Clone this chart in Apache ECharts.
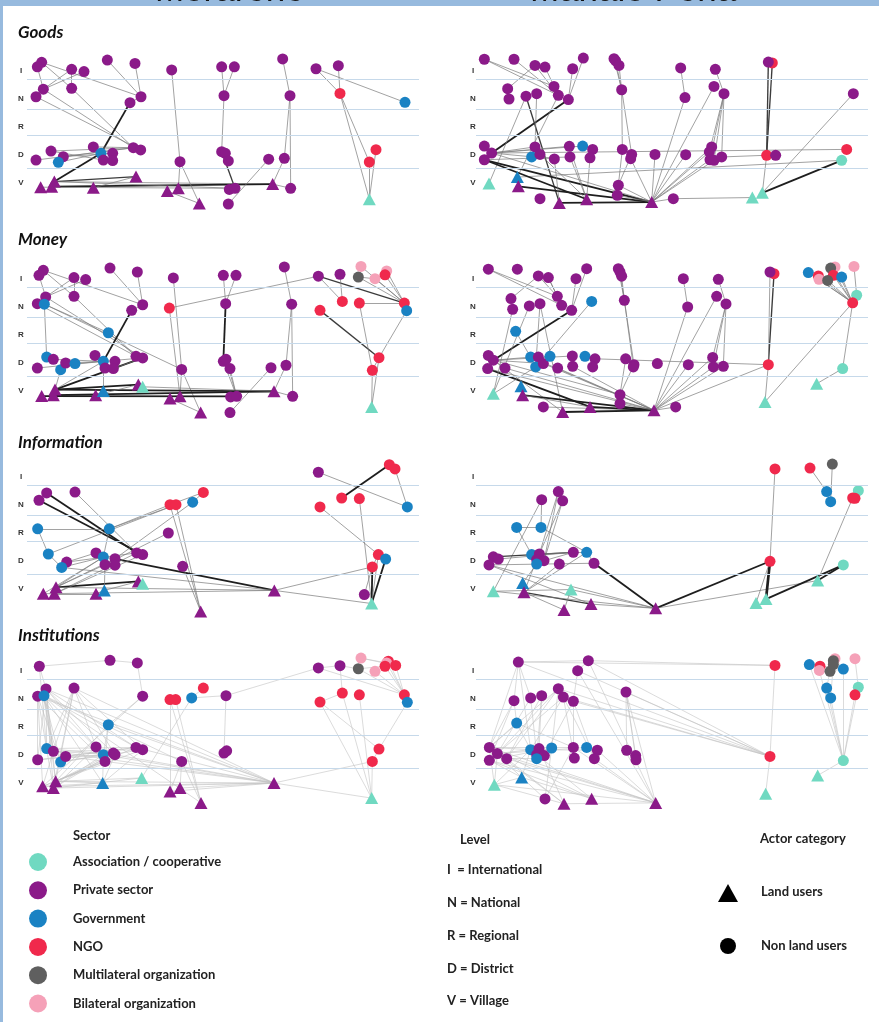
<!DOCTYPE html>
<html>
<head>
<meta charset="utf-8">
<title>Actor networks by flow type</title>
<script src="https://cdn.jsdelivr.net/npm/echarts@6/dist/echarts.min.js"></script>
<style>
  html, body { margin: 0; padding: 0; background: #fff; }
  #chart { width: 879px; height: 1022px; }
</style>
</head>
<body>
<div id="chart"></div>
<script>
// node = [layout x, level (1=V .. 5=I), sector code + actor code]
// sector: A assoc, P private, G government, N NGO, M multilateral, B bilateral
// actor: L land user (triangle), O non land user (circle)
const siteNames = ["Morarene", "Mahalo Pena"];
const flowNames = ["Goods", "Money", "Information", "Institutions"];
const levelLabels = ["", "V", "D", "R", "N", "I", ""];
const levelBounds = [1.54, 2.72, 3.65, 4.71];

const goodsLeftNodes = [
  [44,5.31,"PO"],[31,5.15,"PO"],[241,5.39,"PO"],[324,5.27,"PO"],[134,5.06,"PO"],[171,4.98,"PO"],
  [434,5.04,"PO"],[584,5.15,"PO"],[622,5.15,"PO"],[767,5.43,"PO"],[867,5.08,"PO"],[934,5.19,"PO"],
  [49,4.35,"PO"],[27,4.08,"PO"],[134,4.38,"PO"],[342,4.08,"PO"],[309,3.87,"PO"],[591,4.12,"PO"],
  [789,4.12,"PO"],[939,4.20,"NO"],[1134,3.88,"GO"],[72,2.14,"PO"],[27,1.82,"PO"],[109,1.94,"PO"],
  [94,1.74,"GO"],[199,2.29,"PO"],[222,2.06,"GO"],[229,1.82,"PO"],[257,2.06,"PO"],[257,1.80,"PO"],
  [319,2.26,"PO"],[341,2.18,"PO"],[584,2.12,"PO"],[595,2.06,"PO"],[604,1.79,"PO"],[459,1.76,"PO"],
  [725,1.85,"PO"],[772,1.88,"PO"],[1047,2.19,"NO"],[1027,1.75,"NO"],[41,0.85,"PL"],[74,0.87,"PL"],
  [82,1.05,"PL"],[199,0.83,"PL"],[327,1.23,"PL"],[421,0.71,"PL"],[454,0.81,"PL"],[517,0.27,"PL"],
  [607,0.77,"PO"],[624,0.81,"PO"],[604,0.25,"PO"],[737,0.96,"PL"],[791,0.81,"PO"],[1027,0.42,"AL"]
];
const goodsLeftLinks = [
  [1,12],[0,15],[0,14],[4,12],[5,12],[4,14],[2,15],[3,15],[14,30],[12,30],[13,31],[16,26,2],
  [15,16],[22,30],[23,30],[21,30],[25,30],[24,26],[26,42,2],[42,51],[41,51,2],[40,49],[43,44],
  [42,44,1.5],[6,35],[35,46],[35,47],[45,47],[7,17],[8,17],[17,32],[32,34],[32,49,1.5],[36,50],
  [9,18],[18,37],[18,52],[37,51],[51,52],[10,20],[11,19],[10,19],[19,53],[19,39],[38,53],[39,53],
  [23,28],[21,27],[42,49]
];

const goodsRightNodes = [
  [25,5.42,"PO"],[114,5.42,"PO"],[177,5.20,"PO"],[207,5.14,"PO"],[290,5.08,"PO"],[322,5.46,"PO"],
  [414,5.44,"PO"],[419,5.36,"PO"],[429,5.20,"PO"],[614,5.11,"PO"],[718,5.06,"PO"],[889,5.29,"NO"],
  [877,5.32,"PO"],[95,4.37,"PO"],[99,4.00,"PO"],[150,4.10,"PO"],[182,4.19,"PO"],[234,4.45,"PO"],
  [247,4.13,"PO"],[277,3.98,"PO"],[437,4.33,"PO"],[627,4.05,"PO"],[714,4.45,"PO"],[744,4.19,"PO"],
  [1132,4.19,"PO"],[25,2.32,"PO"],[47,2.07,"PO"],[25,1.83,"PO"],[177,2.29,"PO"],[167,1.93,"GO"],
  [192,2.02,"PO"],[235,1.86,"PO"],[280,2.31,"PO"],[320,2.32,"GO"],[350,2.20,"PO"],[282,1.93,"PO"],
  [342,1.90,"PO"],[439,2.20,"PO"],[467,2.02,"PO"],[464,1.87,"PO"],[537,2.02,"PO"],[629,2.01,"PO"],
  [707,2.29,"PO"],[700,2.11,"PO"],[702,1.83,"PO"],[714,1.81,"PO"],[737,1.93,"PO"],[872,1.99,"NO"],
  [899,1.99,"PO"],[1112,2.20,"NO"],[1097,1.81,"AO"],[39,0.98,"AL"],[124,1.21,"GL"],[127,0.88,"PL"],
  [427,0.92,"PO"],[424,0.56,"PO"],[192,0.44,"PO"],[250,0.29,"PL"],[332,0.42,"PL"],[527,0.32,"PL"],
  [592,0.44,"PO"],[829,0.48,"AL"],[859,0.65,"AL"]
];
const goodsRightLinks = [
  [0,17],[0,18],[2,18],[3,18],[1,18],[2,13],[4,19],[5,19],[19,26,2],[15,57,1.5],[16,28],[18,52],
  [15,51],[6,20],[7,20],[8,20],[20,38],[20,37],[37,54],[38,54],[54,55],[9,21],[21,59],[10,23],
  [23,44],[23,43],[23,45],[23,46],[22,59],[42,59],[43,59],[44,59],[45,59],[11,47,1.5],[12,47,1.5],
  [47,62],[24,62],[50,62,2],[49,26],[50,52],[47,46],[61,60],[60,59],[27,59,2],[27,58,2],[53,59,2],
  [57,59,2],[25,26],[26,28],[26,32],[26,33],[27,35],[26,31],[32,58],[35,58],[36,58],[31,57],[30,58],
  [26,59],[39,59],[40,59],[41,59],[55,59],[54,59]
];

const moneyLeftNodes = [
  [49,5.31,"PO"],[36,5.13,"PO"],[249,5.39,"PO"],[331,5.25,"PO"],[141,5.05,"PO"],[176,4.98,"PO"],
  [439,5.04,"PO"],[589,5.13,"PO"],[627,5.13,"PO"],[772,5.43,"PO"],[874,5.10,"PO"],[939,5.17,"PO"],
  [994,5.07,"MO"],[1002,5.45,"BO"],[1044,5.01,"BO"],[1079,5.29,"BO"],[1074,5.15,"NO"],[56,4.36,"PO"],
  [31,4.12,"PO"],[52,4.10,"GO"],[141,4.38,"PO"],[347,4.08,"PO"],[314,3.88,"PO"],[427,3.96,"NO"],
  [596,4.12,"PO"],[794,4.10,"PO"],[879,3.88,"NO"],[946,4.20,"NO"],[997,4.14,"NO"],[1132,4.14,"NO"],
  [1139,3.87,"GO"],[244,3.08,"GO"],[59,2.21,"GO"],[79,2.13,"PO"],[31,1.82,"PO"],[101,1.76,"GO"],
  [116,2.00,"PO"],[144,1.98,"GO"],[204,2.27,"PO"],[229,2.06,"GO"],[234,1.82,"PO"],[264,2.06,"PO"],
  [259,1.80,"PO"],[327,2.24,"PO"],[347,2.18,"PO"],[464,1.77,"PO"],[589,2.06,"PO"],[609,1.80,"PO"],
  [597,2.13,"PO"],[732,1.83,"PO"],[777,1.92,"PO"],[1056,2.19,"NO"],[1036,1.74,"NO"],[44,0.82,"PL"],
  [79,0.85,"PL"],[84,1.05,"PL"],[206,0.85,"PL"],[229,1.00,"GL"],[334,1.23,"PL"],[347,1.15,"AL"],
  [429,0.73,"PL"],[459,0.81,"PL"],[521,0.23,"PL"],[611,0.79,"PO"],[629,0.81,"PO"],[609,0.23,"PO"],
  [741,0.99,"PL"],[797,0.81,"PO"],[1034,0.43,"AL"]
];
const moneyLeftLinks = [
  [1,17],[0,21],[0,20],[4,17],[5,17],[4,20],[2,21],[3,21],[17,44],[18,43],[19,32],[19,45],[19,31],
  [31,43],[20,43],[22,39,2],[21,22],[23,10],[23,61],[6,45],[45,61],[45,62],[60,62],[7,24],[8,24],
  [24,46,2],[46,64],[47,64],[48,64],[49,65],[9,25],[25,50],[25,67],[50,66],[66,67],[10,29,1.5],
  [10,27],[11,27],[12,14],[12,29],[14,29],[15,29],[16,29],[13,29],[28,29],[29,30],[26,51,1.5],
  [28,52],[30,51],[51,52],[52,68],[51,68],[55,66,2],[54,66,2],[53,64,2],[55,58,2],[55,44,2],[55,39],
  [56,58],[35,55],[32,33],[33,39],[36,39],[37,39],[38,39],[39,44],[57,39],[59,66],[34,39],[42,44]
];

const moneyRightNodes = [
  [37,5.35,"PO"],[124,5.35,"PO"],[187,5.11,"PO"],[217,5.05,"PO"],[300,5.01,"PO"],[332,5.37,"PO"],
  [427,5.37,"PO"],[432,5.25,"PO"],[437,5.10,"PO"],[622,5.01,"PO"],[727,4.99,"PO"],[894,5.19,"NO"],
  [882,5.25,"PO"],[997,5.23,"GO"],[1027,5.11,"NO"],[1029,4.99,"BO"],[1077,5.43,"BO"],[1064,5.39,"MO"],
  [1072,5.13,"NO"],[1055,4.95,"MO"],[1097,5.07,"GO"],[1134,5.45,"BO"],[105,4.30,"PO"],[110,3.92,"PO"],
  [160,4.04,"PO"],[192,4.12,"PO"],[244,4.38,"PO"],[257,4.06,"PO"],[287,3.88,"PO"],[347,4.20,"GO"],
  [445,4.24,"PO"],[635,4.00,"PO"],[722,4.38,"PO"],[750,4.11,"PO"],[1142,4.42,"AO"],[1130,4.15,"NO"],
  [119,3.13,"GO"],[37,2.27,"PO"],[52,2.10,"PO"],[35,1.80,"PO"],[87,1.82,"PO"],[164,2.21,"GO"],
  [187,2.21,"PO"],[179,1.86,"GO"],[202,1.98,"PO"],[222,2.24,"GO"],[245,1.82,"PO"],[289,2.25,"PO"],
  [290,1.88,"PO"],[327,2.24,"GO"],[357,2.15,"PO"],[350,1.86,"PO"],[449,2.15,"PO"],[474,1.94,"PO"],
  [472,1.86,"PO"],[544,1.98,"PO"],[637,1.94,"PO"],[710,2.20,"PO"],[712,1.86,"PO"],[742,1.88,"PO"],
  [877,1.94,"NO"],[1100,1.80,"AO"],[52,0.90,"AL"],[135,1.17,"GL"],[140,0.85,"PL"],[202,0.43,"PO"],
  [260,0.25,"PL"],[342,0.43,"PL"],[432,0.87,"PO"],[432,0.55,"PO"],[534,0.31,"PL"],[599,0.43,"PO"],
  [867,0.61,"AL"],[1022,1.26,"AL"]
];
const moneyRightLinks = [
  [0,26],[0,27],[2,22],[2,26],[3,27],[3,26],[4,28],[5,28],[28,38,2],[25,66],[24,62],[29,43],[6,30],
  [7,30],[8,30],[30,53],[30,54],[52,68],[53,68],[68,69],[9,31],[31,70],[10,33],[33,57],[33,58],
  [33,59],[32,70],[57,70],[58,70],[59,70],[56,70],[11,60,1.5],[12,60],[60,72],[60,70],[50,60],
  [13,35],[14,35],[15,35],[16,35],[17,35],[18,35],[19,35],[20,35],[21,34],[34,35],[35,72],[35,61],
  [61,73],[37,38],[38,40],[38,41],[38,44],[38,47],[38,68],[39,67,2],[38,66],[39,70],[40,70],[41,70],
  [44,70],[48,70],[46,70],[62,43],[63,64],[64,70,2],[64,67],[65,70],[66,70,2],[67,70,2],[69,70],
  [71,70],[36,41],[23,62],[25,43]
];

const infoLeftNodes = [
  [59,4.43,"PO"],[36,4.17,"PO"],[144,4.46,"PO"],[429,4.01,"NO"],[447,4.01,"NO"],[497,4.10,"GO"],
  [529,4.45,"NO"],[32,3.15,"GO"],[247,3.15,"GO"],[424,3.00,"PO"],[64,2.25,"GO"],[119,1.96,"PO"],
  [104,1.77,"GO"],[207,2.29,"PO"],[229,2.14,"GO"],[234,1.87,"PO"],[264,2.08,"PO"],[264,1.85,"PO"],
  [329,2.29,"PO"],[347,2.23,"PO"],[467,1.81,"PO"],[874,5.17,"PO"],[1087,5.44,"NO"],[1104,5.29,"NO"],
  [944,4.25,"NO"],[997,4.23,"NO"],[879,3.93,"NO"],[1141,3.93,"GO"],[1054,2.23,"NO"],[1076,2.07,"GO"],
  [1036,1.79,"NO"],[1012,0.80,"PO"],[49,0.83,"PL"],[82,0.83,"PL"],[87,1.06,"PL"],[207,0.83,"PL"],
  [232,0.95,"GL"],[334,1.27,"PL"],[347,1.19,"AL"],[521,0.20,"PL"],[742,0.95,"PL"],[1034,0.48,"AL"]
];
const infoLeftLinks = [
  [0,18,2],[1,19,2],[2,18],[7,8],[7,10],[8,3],[10,4],[8,4],[3,39],[4,39],[5,16],[5,6],[6,3],[9,15],
  [16,40,2],[20,39],[10,12],[12,14],[11,13],[13,14],[14,16],[15,16],[34,14],[34,16],[34,15],[33,18],
  [32,14],[34,37,2],[33,35],[35,36],[36,37],[36,15],[34,40],[32,40],[12,40],[40,30],[40,41],[21,27],
  [22,24,2],[23,27],[26,28],[25,41],[28,30],[29,41,2],[30,41,2],[28,41],[31,30],[8,14],[11,18],[33,19]
];

const infoRightNodes = [
  [247,4.48,"PO"],[197,4.19,"PO"],[260,4.15,"PO"],[122,3.20,"GO"],[195,3.20,"GO"],[52,2.15,"PO"],
  [67,2.07,"PO"],[39,1.86,"PO"],[167,2.23,"GO"],[190,2.25,"PO"],[182,2.05,"PO"],[204,2.01,"PO"],
  [182,1.89,"GO"],[292,2.31,"PO"],[332,2.31,"GO"],[250,1.89,"PO"],[354,1.92,"PO"],[52,0.92,"AL"],
  [140,1.21,"GL"],[144,0.88,"PL"],[285,0.98,"AL"],[264,0.25,"PL"],[345,0.46,"PL"],[539,0.31,"PL"],
  [897,5.29,"NO"],[1002,5.32,"NO"],[1069,5.46,"MO"],[1052,4.48,"GO"],[1064,4.12,"GO"],[1147,4.51,"AO"],
  [1130,4.25,"NO"],[1137,4.24,"NO"],[882,1.99,"NO"],[1102,1.86,"AO"],[840,0.50,"AL"],[870,0.64,"AL"],
  [1025,1.30,"AL"]
];
const infoRightLinks = [
  [1,4],[0,9],[2,9],[2,11],[0,11],[1,17],[3,4],[3,8],[4,14],[5,13,1.5],[6,13],[7,16],[5,6],[8,9],
  [9,13],[11,13],[16,23,2],[14,19],[15,19],[7,23],[7,22],[17,20],[18,19],[19,22,1.5],[19,21],[20,21],
  [20,23],[23,32,2],[23,36],[24,32],[32,35,3],[32,34],[35,33,2],[36,33,2],[25,27],[26,28],[30,36],
  [14,16],[13,14],[12,18],[10,19],[17,23],[22,23]
];

const instLeftNodes = [
  [37,5.17,"PO"],[249,5.38,"PO"],[331,5.29,"PO"],[57,4.36,"PO"],[32,4.10,"PO"],[51,4.12,"GO"],
  [141,4.39,"PO"],[347,4.10,"PO"],[429,3.98,"NO"],[446,3.98,"NO"],[494,4.04,"GO"],[529,4.39,"NO"],
  [597,4.12,"PO"],[244,3.08,"GO"],[59,2.23,"GO"],[79,2.13,"PO"],[32,1.83,"PO"],[101,1.75,"GO"],
  [116,1.95,"PO"],[207,2.29,"PO"],[229,2.01,"GO"],[234,1.77,"PO"],[259,2.07,"PO"],[264,2.01,"PO"],
  [327,2.27,"PO"],[347,2.19,"PO"],[464,1.77,"PO"],[591,2.07,"PO"],[599,2.15,"PO"],[874,5.11,"PO"],
  [939,5.19,"PO"],[994,5.08,"MO"],[1002,5.46,"BO"],[1044,4.99,"BO"],[1084,5.35,"NO"],[1079,5.29,"BO"],
  [1106,5.20,"NO"],[1074,5.17,"NO"],[946,4.21,"NO"],[997,4.15,"NO"],[879,3.89,"NO"],[1132,4.15,"NO"],
  [1141,3.88,"GO"],[1056,2.21,"NO"],[1036,1.77,"NO"],[47,0.88,"PL"],[79,0.82,"PL"],[86,1.06,"PL"],
  [227,1.00,"GL"],[344,1.18,"AL"],[429,0.70,"PL"],[459,0.82,"PL"],[522,0.29,"PL"],[741,1.00,"PL"],
  [1034,0.46,"AL"]
];
const instLeftLinks = [
  [0,1],[1,2],[0,3],[2,7],[0,14],[3,14],[3,15],[3,19],[3,22],[3,24],[3,46],[3,47],[3,53],[4,16],
  [4,45],[4,46],[4,21],[4,53],[5,17],[5,20],[5,24],[5,48],[5,47],[5,52],[5,26],[6,15],[6,46],[6,47],
  [6,19],[6,23],[6,25],[6,53],[7,13],[7,45],[13,20],[13,21],[13,47],[13,53],[14,24],[15,25],[16,24],
  [18,23],[17,22],[15,23],[45,15],[45,21],[46,20],[46,22],[47,23],[47,24],[47,25],[47,48],[47,49],
  [45,48],[46,49],[48,23],[48,20],[47,53],[46,53],[45,53],[18,53],[15,53],[20,53],[23,53],[24,53],
  [8,52],[9,52],[8,50],[10,12],[11,10],[10,49],[12,27],[12,29],[26,50],[26,51],[26,52],[51,53],
  [50,53],[53,44],[53,54],[29,30],[30,31],[31,37],[32,35],[33,41],[34,41],[35,41],[36,41],[37,41],
  [31,41],[29,41],[30,38],[38,54],[39,54],[40,43],[40,54],[41,42],[42,43],[43,44],[44,54],[38,40],
  [32,36],[4,17],[5,15],[3,16],[6,14],[16,20],[14,23],[17,25],[18,24],[21,45],[19,46],[22,47],[25,48]
];

const instRightNodes = [
  [127,5.32,"PO"],[337,5.37,"PO"],[305,5.01,"PO"],[247,4.37,"PO"],[262,4.07,"PO"],[114,3.94,"PO"],
  [164,4.04,"PO"],[197,4.12,"PO"],[292,3.92,"PO"],[450,4.25,"PO"],[122,3.14,"GO"],[40,2.27,"PO"],
  [64,2.05,"PO"],[40,1.81,"PO"],[92,1.87,"PO"],[164,2.19,"GO"],[189,2.23,"PO"],[182,2.01,"PO"],
  [205,1.98,"PO"],[227,2.25,"GO"],[182,1.87,"GO"],[292,2.27,"PO"],[332,2.27,"GO"],[364,2.17,"PO"],
  [295,1.89,"PO"],[355,1.87,"PO"],[452,2.17,"PO"],[479,1.98,"PO"],[480,1.83,"PO"],[897,5.20,"NO"],
  [882,1.95,"NO"],[1000,5.23,"GO"],[1032,5.17,"NO"],[1030,5.02,"BO"],[1077,5.44,"BO"],[1072,5.37,"MO"],
  [1062,4.99,"MO"],[1072,5.23,"MO"],[1102,5.07,"GO"],[1137,5.44,"BO"],[1052,4.39,"GO"],[1064,4.04,"GO"],
  [1147,4.42,"AO"],[1137,4.15,"NO"],[1102,1.80,"AO"],[55,0.94,"AL"],[137,1.20,"GL"],[207,0.43,"PO"],
  [264,0.26,"PL"],[347,0.44,"PL"],[539,0.29,"PL"],[869,0.62,"AL"],[1025,1.27,"AL"]
];
const instRightLinks = [
  [0,1],[0,29],[1,29],[2,1],[2,8],[0,30],[1,30],[2,30],[3,30],[4,30],[8,30],[9,30],[0,5],[0,6],
  [0,11],[0,15],[3,11],[3,12],[3,14],[4,13],[4,24],[4,25],[5,11],[5,13],[5,10],[6,12],[6,17],[7,16],
  [7,20],[7,14],[8,18],[8,21],[8,25],[3,19],[4,15],[10,11],[10,15],[10,21],[11,15],[12,16],[13,19],
  [14,20],[11,21],[15,23],[12,22],[45,11],[45,12],[45,15],[45,46],[45,48],[45,50],[46,15],[46,13],
  [46,49],[47,11],[47,19],[47,21],[48,12],[48,14],[48,16],[49,11],[49,15],[49,13],[50,11],[50,12],
  [50,13],[50,21],[50,23],[50,25],[50,14],[48,50],[9,27],[9,28],[9,26],[26,27],[30,51],[29,30],
  [31,32],[31,38],[32,38],[34,38],[35,38],[36,38],[37,38],[39,42],[40,44],[41,44],[31,44],[33,44],
  [38,44],[43,44],[42,44],[43,42],[44,52],[36,40],[37,41],[1,50],[2,50],[9,50]
];

const sectorCodes = ["A", "P", "G", "N", "M", "B"];
const sectorNames = ["Association / cooperative", "Private sector", "Government", "NGO",
  "Multilateral organization", "Bilateral organization"];
const levelNames = ["I  = International", "N = National", "R = Regional", "D = District", "V = Village"];
const actorNames = ["Land users", "Non land users"];

const sectorColors = { A: "#70d9c1", P: "#8b1a89", G: "#1a82c3", N: "#f0294c", M: "#5f5f5f", B: "#f5a1b8" };

const panelData = [
  [goodsLeftNodes, goodsLeftLinks, goodsRightNodes, goodsRightLinks],
  [moneyLeftNodes, moneyLeftLinks, moneyRightNodes, moneyRightLinks],
  [infoLeftNodes, infoLeftLinks, infoRightNodes, infoRightLinks],
  [instLeftNodes, instLeftLinks, instRightNodes, instRightLinks]
];

// layout
const rowVillageY = [183, 391, 589, 783]; // pixel row of the V label
const rowTitleTop = [24, 231, 434, 627];
const colLeft = [27, 476];
const gridW = 392;
const font = "Lato";

const chart = echarts.init(document.getElementById("chart"));

function linkStyle(w, faint) {
  if (faint) return { color: "#c2c2c2", width: 0.6, opacity: 1, curveness: 0 };
  if (!w) return { color: "#7a7a7a", width: 0.7, opacity: 1, curveness: 0 };
  return { color: w >= 2 ? "#1e1e1e" : "#3c3c3c", width: w * 0.9, opacity: 1, curveness: 0 };
}

const grid = [], xAxis = [], yAxis = [], series = [], title = [];

flowNames.forEach((flow, r) => {
  title.push({
    text: flow, left: 18, top: rowTitleTop[r], padding: 0,
    textStyle: { fontFamily: font, fontStyle: "italic", fontWeight: "bold", fontSize: 17, color: "#111" }
  });
  for (let c = 0; c < 2; c++) {
    const idx = grid.length;
    const nodes = panelData[r][c * 2];
    const links = panelData[r][c * 2 + 1];
    const faint = r === 3;
    grid.push({ left: colLeft[c], top: rowVillageY[r] - 140, width: gridW, height: 168 });
    xAxis.push({ type: "value", gridIndex: idx, min: 0, max: 1176, show: false });
    yAxis.push({
      type: "value", gridIndex: idx, min: 0, max: 6, interval: 1,
      axisLine: { show: false }, axisTick: { show: false }, splitLine: { show: false },
      axisLabel: {
        formatter: (v) => levelLabels[v] || "",
        margin: c ? 3 : 6, align: "center",
        fontSize: 8, fontWeight: "bold", color: "#333", fontFamily: "Liberation Sans"
      }
    });
    // level separators
    series.push({
      type: "line", xAxisIndex: idx, yAxisIndex: idx, data: [], z: 1, silent: true,
      markLine: {
        silent: true, symbol: "none", animation: false, label: { show: false },
        lineStyle: { color: "#c6d9ea", type: "solid", width: 1 },
        data: levelBounds.map((v) => ({ yAxis: v }))
      }
    });
    series.push({
      type: "graph", coordinateSystem: "cartesian2d", xAxisIndex: idx, yAxisIndex: idx,
      layout: "none", silent: true, animation: false, z: 3,
      label: { show: false }, emphasis: { disabled: true },
      data: nodes.map((n) => {
        const land = n[2][1] === "L";
        return {
          value: [n[0], n[1]],
          symbol: land ? "triangle" : "circle",
          symbolSize: land ? [13, 12] : 11,
          itemStyle: { color: sectorColors[n[2][0]], opacity: 1 }
        };
      }),
      links: links.map((l) => ({ source: l[0], target: l[1], lineStyle: linkStyle(l[2], faint) }))
    });
  }
});

// legend + page frame drawn as graphics
const graphic = [
  { type: "rect", shape: { x: 0, y: 0, width: 879, height: 6 }, style: { fill: "#97bade" }, z: 0 },
  { type: "rect", shape: { x: 0, y: 0, width: 3, height: 1022 }, style: { fill: "#97bade" }, z: 0 },
  { type: "text", x: 155, y: 9, z: 1, style: { text: siteNames[0], fill: "#111", font: '35px "Liberation Sans"', verticalAlign: "bottom" } },
  { type: "text", x: 530, y: 9, z: 1, style: { text: siteNames[1], fill: "#111", font: '35px "Liberation Sans"', verticalAlign: "bottom" } },
  { type: "text", x: 73, y: 836, style: { text: "Sector", fill: "#222", font: 'bold 13px "Lato"', verticalAlign: "middle" } },
  { type: "text", x: 460, y: 840, style: { text: "Level", fill: "#222", font: 'bold 13px "Lato"', verticalAlign: "middle" } },
  { type: "text", x: 760, y: 839, style: { text: "Actor category", fill: "#222", font: 'bold 13px "Lato"', verticalAlign: "middle" } }
];
sectorNames.forEach((name, i) => {
  const y = 862 + i * 28.3;
  graphic.push({ type: "circle", shape: { cx: 38, cy: y, r: 9 }, style: { fill: sectorColors[sectorCodes[i]] } });
  graphic.push({ type: "text", x: 73, y: y, style: { text: name, fill: "#222", font: 'bold 13px "Lato"', verticalAlign: "middle" } });
});
levelNames.forEach((name, i) => {
  graphic.push({ type: "text", x: 447, y: 870 + i * 32.8, style: { text: name, fill: "#222", font: 'bold 13px "Lato"', verticalAlign: "middle" } });
});
graphic.push({ type: "polygon", shape: { points: [[718, 902], [738, 902], [728, 884]] }, style: { fill: "#000" } });
graphic.push({ type: "circle", shape: { cx: 728, cy: 946, r: 8 }, style: { fill: "#000" } });
actorNames.forEach((name, i) => {
  graphic.push({ type: "text", x: 761, y: 892 + i * 54, style: { text: name, fill: "#222", font: 'bold 13px "Lato"', verticalAlign: "middle" } });
});

chart.setOption({
  backgroundColor: "#fff",
  animation: false,
  title: title,
  grid: grid,
  xAxis: xAxis,
  yAxis: yAxis,
  series: series,
  graphic: graphic
});
</script>
</body>
</html>
